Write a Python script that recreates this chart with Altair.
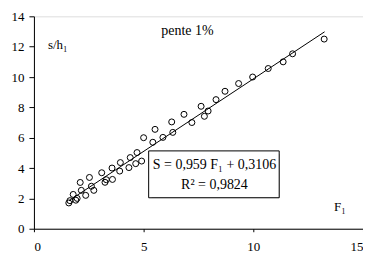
import altair as alt
import pandas as pd

# observed points (F1, s/h1)
F1 = [1.59, 1.64, 1.79, 1.91, 1.97, 2.11, 2.16, 2.36, 2.53, 2.62, 2.73, 3.09, 3.24, 3.30,
      3.58, 3.56, 3.91, 3.94, 4.33, 4.39, 4.64, 4.70, 4.91, 5.00, 5.42, 5.52, 5.88, 6.33,
      6.28, 6.84, 7.20, 7.62, 7.77, 7.94, 8.30, 8.71, 9.33, 9.97, 10.68, 11.36, 11.79, 13.23]
SH = [1.70, 1.85, 2.26, 1.88, 2.00, 3.05, 2.53, 2.20, 3.38, 2.80, 2.53, 3.69, 3.06, 3.23,
      3.25, 4.00, 3.80, 4.36, 4.03, 4.69, 4.29, 5.02, 4.46, 6.00, 5.70, 6.55, 6.02, 6.35,
      7.04, 7.54, 7.00, 8.07, 7.41, 7.76, 8.51, 9.06, 9.57, 10.00, 10.56, 11.00, 11.53, 12.50]

# fitted trend line endpoints, as drawn
trend_x = [1.6, 13.25]
trend_y = [1.85, 12.98]

x_ticks = [0, 5, 10, 15]
y_ticks = [0, 2, 4, 6, 8, 10, 12, 14]

FONT = "Liberation Serif"

pts = pd.DataFrame({"F1": F1, "SH": SH})
trend = pd.DataFrame({"F1": trend_x, "SH": trend_y})

xs = alt.Scale(domain=[0, 15], nice=False, zero=False)
ys = alt.Scale(domain=[0, 14], nice=False, zero=False)

xaxis = alt.Axis(values=x_ticks, tickCount=4, title=None, grid=False,
                 tickSize=3, labelPadding=9, domainColor="black", tickColor="black",
                 labelColor="black", labelFont=FONT, labelFontSize=13, labelOverlap=False)
yaxis = alt.Axis(values=y_ticks, tickCount=8, title=None, grid=False,
                 tickSize=5, labelPadding=5, domainColor="black", tickColor="black",
                 labelColor="black", labelFont=FONT, labelFontSize=13, labelOverlap=False)

def X(f):
    return alt.X(f, scale=xs, axis=xaxis, title=None)

def Y(f):
    return alt.Y(f, scale=ys, axis=yaxis, title=None)

points = alt.Chart(pts).mark_point(shape="circle", size=36, filled=False, color="black",
                                   strokeWidth=1, opacity=1).encode(x=X("F1:Q"), y=Y("SH:Q"))

line = alt.Chart(trend).mark_line(color="black", strokeWidth=1).encode(
    x=X("F1:Q"), y=Y("SH:Q"))

box = pd.DataFrame({"x1": [5.23], "x2": [11.18], "y1": [5.13], "y2": [2.04]})
shadow = alt.Chart(box).mark_rect(color="black", xOffset=3, yOffset=3).encode(
    x=X("x1:Q"), x2="x2:Q", y=Y("y1:Q"), y2="y2:Q")
frame = alt.Chart(box).mark_rect(fill="white", stroke="black", strokeWidth=1).encode(
    x=X("x1:Q"), x2="x2:Q", y=Y("y1:Q"), y2="y2:Q")

labels = pd.DataFrame({
    "x": [7.0, 0.64, 13.68, 8.23, 8.23],
    "y": [13.03, 12.1, 1.45, 4.21, 2.89],
    "t": ["pente 1%", "s/h\u2081", "F\u2081", "S = 0,959 F\u2081 + 0,3106", "R\u00b2 = 0,9824"],
    "a": ["center", "left", "left", "center", "center"],
})

def txt(i, size):
    r = labels.iloc[[i]]
    return alt.Chart(r).mark_text(font=FONT, fontSize=size, color="black",
                                  align=r["a"].iloc[0], baseline="middle").encode(
        x=X("x:Q"), y=Y("y:Q"), text="t:N")

chart = alt.layer(
    points, line, shadow, frame,
    txt(0, 14), txt(1, 13), txt(2, 13), txt(3, 14), txt(4, 14)
).properties(
    width=330, height=213,
    autosize=alt.AutoSizeParams(type="none"),
    padding={"left": 26, "top": 8, "right": 0, "bottom": 28},
).configure_view(stroke="black", strokeWidth=1).configure(background="white")

chart.save("out.html", embed_options={"renderer": "svg", "actions": False})
